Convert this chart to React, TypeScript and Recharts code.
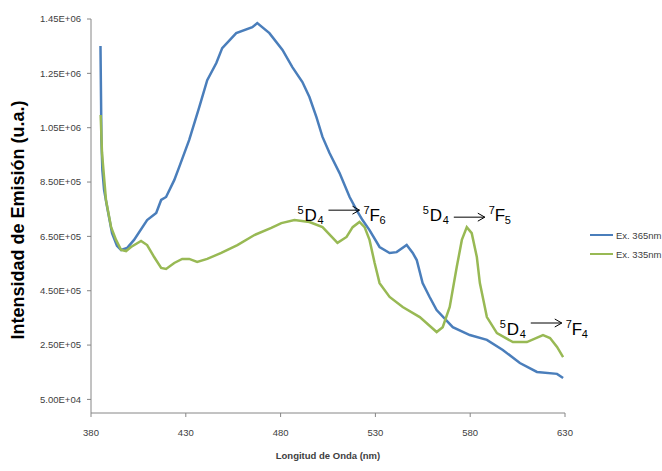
import React from 'react';
import { LineChart, Line, XAxis, YAxis, ReferenceDot, Label } from 'recharts';

// Ex. 365nm (blue)
const blueNm = [
  385.0, 385.3, 385.5, 386.0, 386.9, 388.5, 391.1, 393.7, 395.9, 399.0, 402.7, 409.6, 414.4, 417.0,
  419.6, 423.9, 426.5, 431.8, 437.1, 441.3, 446.1, 449.2, 456.6, 465.1, 467.7, 474.1, 481.0, 486.2,
  491.5, 495.2, 498.9, 502.1, 505.8, 511.1, 516.4, 520.1, 523.2, 526.9, 532.2, 537.5, 541.2, 546.5,
  549.7, 551.8, 554.9, 558.6, 562.3, 570.8, 579.8, 588.8, 597.2, 606.2, 615.2, 625.8, 629.0,
];
const blueVal = [
  1351000, 1152000, 1005000, 894000, 821000, 758000, 662000, 615000, 600000, 607000, 637000, 710000,
  736000, 784000, 795000, 857000, 905000, 1005000, 1126000, 1225000, 1288000, 1343000, 1398000,
  1420000, 1435000, 1398000, 1336000, 1273000, 1218000, 1163000, 1089000, 1016000, 957000, 883000,
  795000, 747000, 710000, 673000, 611000, 589000, 592000, 618000, 589000, 563000, 478000, 427000,
  379000, 316000, 287000, 269000, 232000, 184000, 151000, 144000, 129000,
];

// Ex. 335nm (green)
const greenNm = [
  385.1, 385.8, 387.9, 390.6, 393.2, 395.9, 398.5, 401.1, 406.4, 409.6, 413.3, 417.0, 419.6, 423.9,
  428.1, 431.8, 436.0, 441.3, 448.7, 457.2, 466.2, 475.1, 480.4, 487.3, 495.2, 502.1, 510.0, 514.8,
  518.0, 521.6, 524.3, 526.9, 529.6, 532.2, 537.5, 544.4, 553.4, 562.3, 565.5, 569.2, 572.9, 575.6,
  578.2, 580.8, 583.5, 585.1, 588.8, 594.1, 602.5, 609.9, 618.4, 622.1, 625.8, 629.0,
];
const greenVal = [
  1097000, 957000, 784000, 684000, 637000, 600000, 596000, 611000, 633000, 618000, 574000, 534000,
  530000, 552000, 567000, 567000, 556000, 567000, 589000, 618000, 655000, 681000, 699000, 710000,
  703000, 684000, 626000, 648000, 684000, 703000, 684000, 637000, 552000, 478000, 427000, 390000,
  353000, 298000, 316000, 390000, 537000, 637000, 684000, 662000, 574000, 478000, 353000, 294000,
  261000, 261000, 287000, 276000, 243000, 206000,
];

const xTicks = [380, 430, 480, 530, 580, 630];
const yTicks = [50000, 250000, 450000, 650000, 850000, 1050000, 1250000, 1450000];

const seriesNames = ['Ex. 365nm', 'Ex. 335nm'];
const colors = ['#4a7ebb', '#98b954'];

// transitions: anchor in data units (left edge / baseline)
const transitions = [
  { nm: 488.9, val: 706000, from: '5D4', to: '7F6', arrowUp: 11 },
  { nm: 555.0, val: 706000, from: '5D4', to: '7F5', arrowUp: 4 },
  { nm: 595.6, val: 287000, from: '5D4', to: '7F4', arrowUp: 12 },
];

const blueData = blueNm.map((nm, i) => ({ nm, v: blueVal[i] }));
const greenData = greenNm.map((nm, i) => ({ nm, v: greenVal[i] }));

const font = '"Liberation Sans", Arial, sans-serif';

const fmtSci = (v: number) => {
  const [m, e] = v.toExponential(2).toUpperCase().split('E');
  const n = parseInt(e, 10);
  return `${m}E${n < 0 ? '-' : '+'}${String(Math.abs(n)).padStart(2, '0')}`;
};

const Transition = (props: any) => {
  const { cx, cy, t } = props;
  const big = 17;
  const small = 11;
  const ay = cy - t.arrowUp;
  const ax1 = cx + 31;
  const ax2 = cx + 62;
  return (
    <g fontFamily={font} fill="#000">
      <text x={cx} y={cy - 7} fontSize={small}>{t.from[0]}</text>
      <text x={cx + 7} y={cy} fontSize={big}>{t.from[1]}</text>
      <text x={cx + 20} y={cy + 3} fontSize={small}>{t.from[2]}</text>
      <line x1={ax1} y1={ay} x2={ax2} y2={ay} stroke="#000" strokeWidth={1} />
      <polyline
        points={`${ax2 - 7},${ay - 4} ${ax2},${ay} ${ax2 - 7},${ay + 4}`}
        fill="none"
        stroke="#000"
        strokeWidth={1}
      />
      <text x={cx + 66} y={cy - 7} fontSize={small}>{t.to[0]}</text>
      <text x={cx + 72} y={cy} fontSize={big}>{t.to[1]}</text>
      <text x={cx + 82} y={cy + 3} fontSize={small}>{t.to[2]}</text>
    </g>
  );
};

const App: React.FC = () => {
  return (
    <div style={{ position: 'absolute', left: 0, top: 0, width: 662, height: 471, background: '#fff' }}>
      <LineChart width={662} height={471} margin={{ top: 19, right: 97, left: 0, bottom: 0 }}>
        <XAxis
          type="number"
          dataKey="nm"
          domain={[380, 630]}
          ticks={xTicks}
          allowDataOverflow
          height={58}
          stroke="#868686"
          tickSize={4}
          tickMargin={12}
          tick={{ fill: '#404040', fontSize: 9.5, fontFamily: font }}
        >
          <Label
            content={(p: any) => {
              const vb = p.viewBox;
              return (
                <text
                  x={vb.x + vb.width / 2}
                  y={459}
                  textAnchor="middle"
                  fontFamily={font}
                  fontSize={9.5}
                  fontWeight="bold"
                  fill="#404040"
                >
                  Longitud de Onda (nm)
                </text>
              );
            }}
          />
        </XAxis>
        <YAxis
          type="number"
          domain={[0, 1450000]}
          ticks={yTicks}
          width={91}
          stroke="#868686"
          tickSize={4}
          tickMargin={6}
          tickFormatter={fmtSci}
          tick={{ fill: '#404040', fontSize: 9.5, fontFamily: font }}
        >
          <Label
            content={(p: any) => {
              const vb = p.viewBox;
              const y = vb.y + vb.height / 2 + 4;
              return (
                <text
                  x={24}
                  y={y}
                  transform={`rotate(-90 24 ${y})`}
                  textAnchor="middle"
                  fontFamily={font}
                  fontSize={18}
                  fontWeight="bold"
                  fill="#000"
                >
                  Intensidad de Emisión (u.a.)
                </text>
              );
            }}
          />
        </YAxis>
        <Line
          data={blueData}
          dataKey="v"
          name={seriesNames[0]}
          type="linear"
          stroke={colors[0]}
          strokeWidth={2.5}
          dot={false}
          isAnimationActive={false}
        />
        <Line
          data={greenData}
          dataKey="v"
          name={seriesNames[1]}
          type="linear"
          stroke={colors[1]}
          strokeWidth={2.5}
          dot={false}
          isAnimationActive={false}
        />
        {transitions.map((t, i) => (
          <ReferenceDot
            key={i}
            x={t.nm}
            y={t.val}
            shape={(p: any) => <Transition {...p} t={t} />}
          />
        ))}
      </LineChart>
      <div
        style={{
          position: 'absolute',
          left: 590,
          top: 228,
          fontFamily: font,
          fontSize: 9.5,
          color: '#404040',
        }}
      >
        {seriesNames.map((n, i) => (
          <div key={n} style={{ display: 'flex', alignItems: 'center', height: 14, marginBottom: 5 }}>
            <span style={{ display: 'inline-block', width: 23, height: 2.5, background: colors[i], marginRight: 3 }} />
            <span>{n}</span>
          </div>
        ))}
      </div>
    </div>
  );
};

export default App;
